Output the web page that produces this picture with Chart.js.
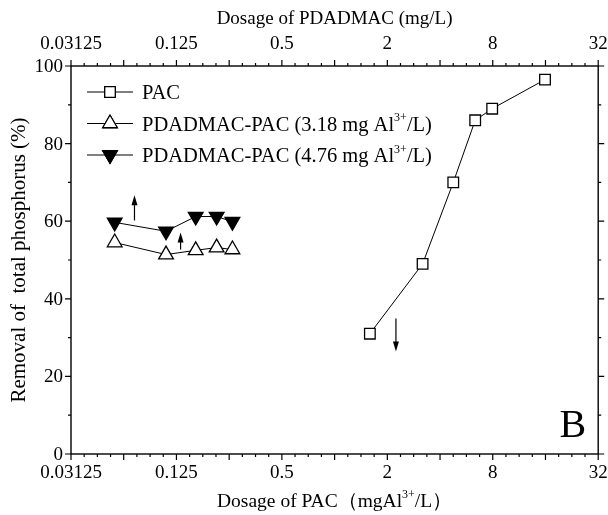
<!DOCTYPE html>
<html>
<head>
<meta charset="utf-8">
<script src="https://cdn.jsdelivr.net/npm/chart.js@4.4.0/dist/chart.umd.min.js"></script>
<style>
  html, body { margin: 0; padding: 0; background: #fff; }
  #wrap { width: 608px; height: 515px; }
  canvas { display: block; }
</style>
</head>
<body>
<div id="wrap"><canvas id="chart" width="608" height="515"></canvas></div>
<script>
// PAC dosage (mg Al3+/L) and removal (%)
const pacDose = [1.59, 3.18, 4.76, 6.35, 7.94, 15.9];
const pacRemoval = [31, 49, 70, 86, 89, 96.5];

// PDADMAC dosage (mg/L) with fixed PAC
const pdDose = [0.0555, 0.109, 0.161, 0.212, 0.261];
const removal318 = [54.5, 51.4, 52.5, 53.2, 52.7];
const removal476 = [59.7, 57.4, 61.2, 61.2, 59.9];

const xTickLabels = [0.03125, 0.125, 0.5, 2, 8, 32];
const yTickLabels = [0, 20, 40, 60, 80, 100];

// arrows: [x, yFrom, yTo]
const arrows = [[0.072, 60.2, 66.7], [0.132, 52.7, 57.1], [2.24, 34.9, 26.4]];

const FONT = '"Liberation Serif", "Times New Roman", serif';

function toXY(xs, ys) {
    return xs.map((x, i) => ({ x: x, y: ys[i] }));
}

// draw text with a "3+" superscript, pieces = [[text, isSup], ...]
function drawRich(ctx, pieces, x, y, size, align) {
    const supSize = Math.round(size * 0.6);
    let total = 0;
    pieces.forEach(p => {
        ctx.font = (p[1] ? supSize : size) + 'px ' + FONT;
        total += ctx.measureText(p[0]).width;
    });
    let cx = align === 'center' ? x - total / 2 : x;
    ctx.textAlign = 'left';
    ctx.textBaseline = 'alphabetic';
    pieces.forEach(p => {
        ctx.font = (p[1] ? supSize : size) + 'px ' + FONT;
        ctx.fillText(p[0], cx, p[1] ? y - size * 0.45 : y);
        cx += ctx.measureText(p[0]).width;
    });
}

const framePlugin = {
    id: 'frame',
    afterDatasetsDraw(chart) {
        const ctx = chart.ctx;
        const xs = chart.scales.x;
        const ys = chart.scales.y;
        const a = chart.chartArea;
        ctx.save();
        ctx.strokeStyle = '#000';
        ctx.fillStyle = '#000';
        ctx.lineWidth = 1.4;
        ctx.strokeRect(a.left, a.top, a.right - a.left, a.bottom - a.top);

        // x ticks, log2 spaced, top and bottom
        ctx.lineWidth = 1.2;
        for (let k = -5; k <= 5; k++) {
            const px = xs.getPixelForValue(Math.pow(2, k));
            ctx.beginPath();
            ctx.moveTo(px, a.bottom); ctx.lineTo(px, a.bottom + 6);
            ctx.moveTo(px, a.top); ctx.lineTo(px, a.top - 6);
            ctx.stroke();
            if (k < 5) {
                for (let m = 1; m < 4; m++) {
                    const mx = xs.getPixelForValue(Math.pow(2, k + m / 4));
                    ctx.beginPath();
                    ctx.moveTo(mx, a.bottom); ctx.lineTo(mx, a.bottom + 3);
                    ctx.moveTo(mx, a.top); ctx.lineTo(mx, a.top - 3);
                    ctx.stroke();
                }
            }
        }
        // y ticks
        for (let v = 0; v <= 100; v += 10) {
            const py = ys.getPixelForValue(v);
            const len = v % 20 === 0 ? 6 : 3;
            ctx.beginPath();
            ctx.moveTo(a.left, py); ctx.lineTo(a.left - len, py);
            ctx.moveTo(a.right, py); ctx.lineTo(a.right + len, py);
            ctx.stroke();
        }

        // tick labels
        ctx.font = '19px ' + FONT;
        ctx.textAlign = 'center';
        ctx.textBaseline = 'alphabetic';
        xTickLabels.forEach(v => {
            const px = xs.getPixelForValue(v);
            ctx.fillText(String(v), px, a.bottom + 24);
            ctx.fillText(String(v), px, a.top - 17);
        });
        ctx.textAlign = 'right';
        ctx.textBaseline = 'middle';
        yTickLabels.forEach(v => {
            ctx.fillText(String(v), a.left - 8, ys.getPixelForValue(v) + 1);
        });

        // axis titles
        ctx.textAlign = 'center';
        ctx.textBaseline = 'alphabetic';
        ctx.font = '19px ' + FONT;
        ctx.fillText('Dosage of PDADMAC (mg/L)', (a.left + a.right) / 2, 24);
        drawRich(ctx, [['Dosage of PAC\uFF08mgAl', false], ['3+', true], ['/L\uFF09', false]],
            (a.left + a.right) / 2, 507, 19.5, 'center');
        ctx.save();
        ctx.translate(25, (a.top + a.bottom) / 2);
        ctx.rotate(-Math.PI / 2);
        ctx.font = '21px ' + FONT;
        ctx.textAlign = 'center';
        ctx.textBaseline = 'alphabetic';
        ctx.fillText('Removal of  total phosphorus (%)', 0, 0);
        ctx.restore();

        // arrows
        ctx.lineWidth = 1.2;
        arrows.forEach(ar => {
            const px = xs.getPixelForValue(ar[0]);
            const y1 = ys.getPixelForValue(ar[1]);
            const y2 = ys.getPixelForValue(ar[2]);
            const dir = y2 < y1 ? 1 : -1;
            ctx.beginPath();
            ctx.moveTo(px, y1); ctx.lineTo(px, y2 + dir * 6);
            ctx.stroke();
            ctx.beginPath();
            ctx.moveTo(px, y2);
            ctx.lineTo(px - 3, y2 + dir * 10);
            ctx.lineTo(px + 3, y2 + dir * 10);
            ctx.closePath();
            ctx.fill();
        });

        // panel letter
        ctx.font = '40px ' + FONT;
        ctx.textAlign = 'right';
        ctx.textBaseline = 'alphabetic';
        ctx.fillText('B', a.right - 12, a.bottom - 17);

        // legend
        const rows = [
            { ds: 0, text: [['PAC', false]] },
            { ds: 1, text: [['PDADMAC-PAC (3.18 mg Al', false], ['3+', true], ['/L)', false]] },
            { ds: 2, text: [['PDADMAC-PAC (4.76 mg Al', false], ['3+', true], ['/L)', false]] }
        ];
        const lx = a.left + 16;
        rows.forEach((r, i) => {
            const ly = a.top + 26 + i * 31.5;
            const ds = chart.data.datasets[r.ds];
            ctx.lineWidth = 1;
            ctx.strokeStyle = '#000';
            ctx.beginPath();
            ctx.moveTo(lx, ly); ctx.lineTo(lx + 46, ly);
            ctx.stroke();
            Chart.helpers.drawPoint(ctx, {
                pointStyle: ds.pointStyle,
                radius: ds.pointRadius,
                rotation: ds.pointRotation || 0,
                borderWidth: ds.pointBorderWidth
            }, lx + 23, ly);
            ctx.fillStyle = ds.pointBackgroundColor;
            ctx.strokeStyle = '#000';
            ctx.lineWidth = ds.pointBorderWidth;
            ctx.fill();
            ctx.stroke();
            ctx.fillStyle = '#000';
            drawRich(ctx, r.text, lx + 55, ly + 7, 20.5, 'left');
        });
        ctx.restore();
    }
};

new Chart(document.getElementById('chart'), {
    type: 'scatter',
    data: {
        datasets: [
            {
                label: 'PAC',
                data: toXY(pacDose, pacRemoval),
                showLine: true,
                borderColor: '#000',
                borderWidth: 1,
                pointStyle: 'rect',
                pointRadius: 7.5,
                pointBackgroundColor: '#fff',
                pointBorderColor: '#000',
                pointBorderWidth: 1.3
            },
            {
                label: 'PDADMAC-PAC (3.18 mg Al3+/L)',
                data: toXY(pdDose, removal318),
                showLine: true,
                borderColor: '#000',
                borderWidth: 1,
                pointStyle: 'triangle',
                pointRadius: 8.5,
                pointBackgroundColor: '#fff',
                pointBorderColor: '#000',
                pointBorderWidth: 1.3
            },
            {
                label: 'PDADMAC-PAC (4.76 mg Al3+/L)',
                data: toXY(pdDose, removal476),
                showLine: true,
                borderColor: '#000',
                borderWidth: 1,
                pointStyle: 'triangle',
                pointRotation: 180,
                pointRadius: 8.5,
                pointBackgroundColor: '#000',
                pointBorderColor: '#000',
                pointBorderWidth: 1.3
            }
        ]
    },
    options: {
        responsive: false,
        animation: false,
        devicePixelRatio: 1,
        layout: { padding: { left: 71, right: 8, top: 66, bottom: 61 } },
        plugins: { legend: { display: false }, tooltip: { enabled: false } },
        scales: {
            x: { type: 'logarithmic', min: 0.03125, max: 32, display: false },
            y: { type: 'linear', min: 0, max: 100, display: false }
        }
    },
    plugins: [framePlugin]
});
</script>
</body>
</html>
